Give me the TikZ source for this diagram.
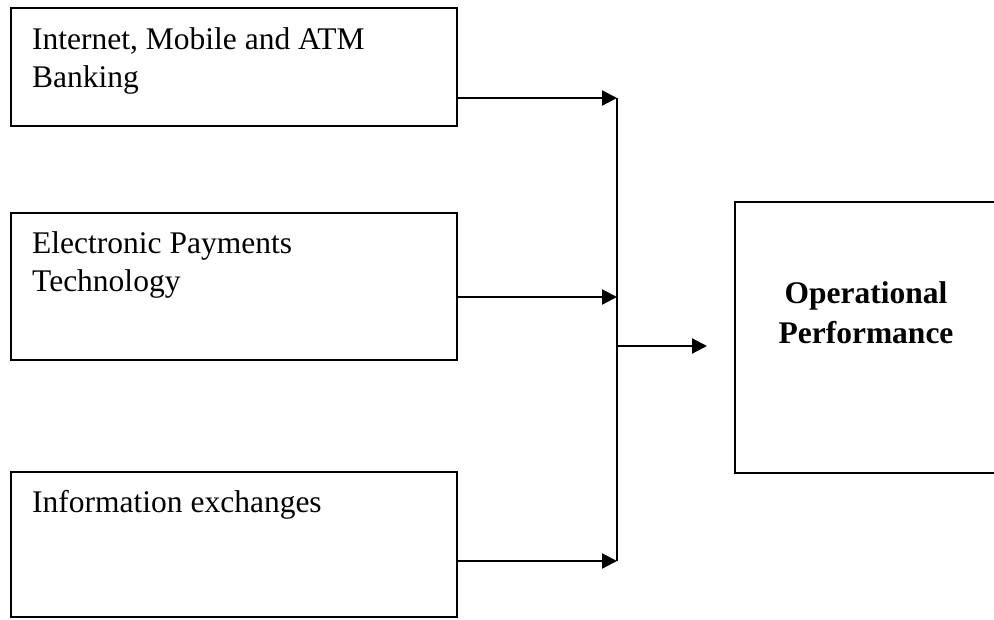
\documentclass[tikz,border=0pt]{standalone}
\usepackage{fontspec}
\setmainfont{Liberation Serif}
\usetikzlibrary{arrows.meta}
\begin{document}
\begin{tikzpicture}[x=1pt,y=-1pt,
  box/.style={draw, line width=1.8pt, rectangle, inner sep=0pt, outer sep=0pt, anchor=north west},
  lbl/.style={anchor=base west, inner sep=0pt, font=\fontsize{31.5}{37}\selectfont},
  blbl/.style={anchor=base, inner sep=0pt, font=\fontsize{31.5}{37}\selectfont\bfseries},
  conn/.style={line width=2.2pt},
  arr/.style={line width=2.2pt, -{Triangle[length=15pt,width=15pt]}}]
\clip (0,0) rectangle (994,619);
\fill[white] (0,0) rectangle (994,619);
% left boxes
\node[box, minimum width=446pt, minimum height=118pt] (b1) at (11,8) {};
\node[box, minimum width=446pt, minimum height=147pt] (b2) at (11,213) {};
\node[box, minimum width=446pt, minimum height=145pt] (b3) at (11,472) {};
% right box
\node[box, minimum width=262pt, minimum height=271pt] (ob) at (735,202) {};
% texts
\node[lbl] (t1a) at (32,49) {Internet, Mobile and ATM};
\node[lbl] (t1b) at (32,87) {Banking};
\node[lbl] (t2a) at (32,253) {Electronic Payments};
\node[lbl] (t2b) at (32,291) {Technology};
\node[lbl] (t3a) at (32,512) {Information exchanges};
\node[blbl] (oa) at (866,303) {Operational};
\node[blbl] (obb) at (866,343) {Performance};
% junctions
\coordinate (j1) at (617,98);
\coordinate (j2) at (617,297);
\coordinate (j3) at (617,561);
\coordinate (jm) at (617,346);
\coordinate (tip) at (707,346);
\draw[conn] (j1) -- (j3);
\draw[arr] ([yshift=28pt]b1.south east) -- (j1);
\draw[arr] ([yshift=63pt]b2.south east) -- (j2);
\draw[arr] ([yshift=56pt]b3.south east) -- (j3);
\draw[arr] (jm) -- (tip);
\end{tikzpicture}
\end{document}
